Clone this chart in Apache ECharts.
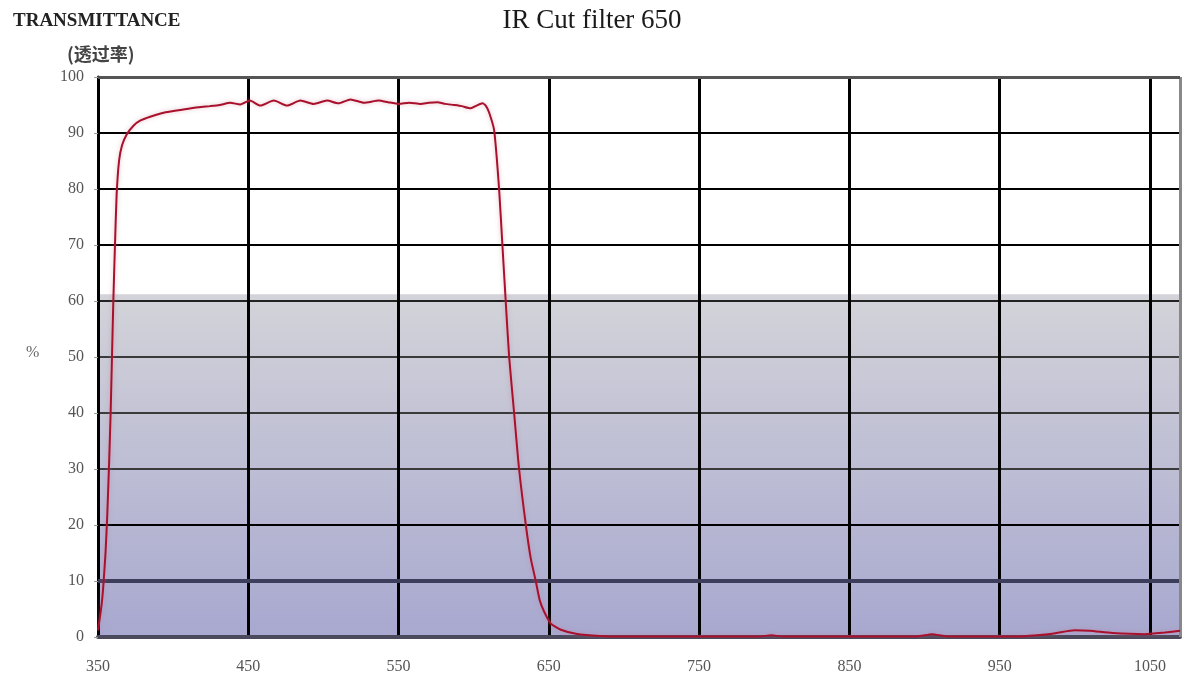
<!DOCTYPE html>
<html>
<head>
<meta charset="utf-8">
<script src="https://cdn.jsdelivr.net/npm/echarts@6/dist/echarts.min.js"></script>
<style>html,body{margin:0;padding:0;background:#fff}#c{width:1184px;height:679px}</style>
</head>
<body>
<div id="c"></div>
<script>
const titleText = 'IR Cut filter 650';
const yTitle = 'TRANSMITTANCE';
const yTitleCn = '(透过率)';
const yUnit = '%';
const xTickLabels = [350, 450, 550, 650, 750, 850, 950, 1050];
const yTickLabels = [0, 10, 20, 30, 40, 50, 60, 70, 80, 90, 100];
const shadedTop = 61.2;
const wavelength = [350, 351, 352.5, 353.5, 355, 356.2, 357.5, 358.4, 359.3, 360.2,
  361.3, 362.4, 364, 366, 369, 373.6, 378, 384.7, 395, 406.7,
  417, 424.7, 431, 438, 444.7, 451, 458, 467, 475.8, 484.7,
  493.5, 502.4, 510, 518, 526.9, 536.9, 543, 550.2, 557, 564.7,
  570, 575.8, 581, 586.9, 592, 598, 602, 605.8, 608, 610.2,
  613.6, 616.9, 619.1, 621.3, 623.6, 626.9, 630.2, 634.7, 638, 641.3,
  644, 646.9, 651.3, 658, 668, 684, 700, 750, 790, 798,
  806, 850, 895, 905, 915, 960, 985, 1000, 1010, 1025,
  1046.7, 1060, 1070];
const transmittance = [1.2, 3, 6, 9, 15, 22, 32, 40, 50, 60,
  70, 79, 85, 87.8, 89.7, 91.3, 92.2, 92.9, 93.7, 94.2,
  94.6, 94.8, 95.0, 95.4, 95.1, 95.8, 94.9, 95.8, 94.9, 95.8,
  95.2, 95.8, 95.3, 96.0, 95.4, 95.8, 95.5, 95.2, 95.4, 95.2,
  95.4, 95.5, 95.2, 95.0, 94.8, 94.4, 94.9, 95.3, 94.9, 93.7,
  90.5, 80, 70, 60, 50, 40, 30, 20, 14, 10,
  6.5, 4.5, 2.4, 1.3, 0.6, 0.2, 0.1, 0.1, 0.1, 0.3,
  0.1, 0.1, 0.1, 0.5, 0.1, 0.1, 0.6, 1.2, 1.1, 0.7,
  0.5, 0.8, 1.1];

const seriesData = wavelength.map((w, i) => [w, transmittance[i]]);
const xMin = xTickLabels[0];
const xMax = 1070;

const chart = echarts.init(document.getElementById('c'));
const serif = '"Liberation Serif", "DejaVu Serif", serif';
chart.setOption({
  animation: false,
  backgroundColor: '#ffffff',
  title: [
    { text: titleText, left: 'center', top: 2,
      textStyle: { fontFamily: serif, fontSize: 27, fontWeight: 'normal', color: '#1a1a1a' } },
    { text: yTitle, left: 8, top: 7,
      textStyle: { fontFamily: serif, fontSize: 19, fontWeight: 'bold', color: '#222' } },
    { text: yTitleCn, left: 62, top: 40,
      textStyle: { fontFamily: '"Noto Sans CJK SC", sans-serif', fontSize: 18, fontWeight: 'bold', color: '#444' } }
  ],
  graphic: [
    { type: 'text', left: 26, top: 345,
      style: { text: yUnit, font: '16px ' + serif, fill: '#666' } }
  ],
  grid: { left: 98, right: 4, top: 77, bottom: 42 },
  xAxis: {
    type: 'value', min: xMin, max: xMax, interval: 50, z: 3,
    axisLine: { show: true, lineStyle: { color: '#4a4a5c', width: 4 } },
    axisTick: { show: false },
    axisLabel: {
      margin: 22, fontFamily: serif, fontSize: 16, color: '#555',
      formatter: v => (xTickLabels.indexOf(v) >= 0 ? String(v) : '')
    },
    splitLine: { show: true, lineStyle: { color: ['#000', 'rgba(0,0,0,0)'], width: 3 } }
  },
  yAxis: {
    type: 'value', min: 0, max: 100, interval: 10, z: 3,
    axisLine: { show: true, lineStyle: { color: '#000', width: 3 } },
    axisTick: { show: true, length: 4, lineStyle: { color: '#999' } },
    axisLabel: { margin: 14, fontFamily: serif, fontSize: 16, color: '#555',
      formatter: v => (yTickLabels.indexOf(v) >= 0 ? String(v) : '') },
    splitLine: { show: true, lineStyle: {
      color: ['rgba(0,0,0,0)', '#3d3d5c', '#000', '#3a3a3a', '#3a3a3a', '#3a3a3a', '#222', '#000', '#000', '#000', '#555'],
      width: 2 } }
  },
  series: [
    {
      type: 'line', z: 1, data: seriesData, showSymbol: false, silent: true,
      lineStyle: { width: 0, opacity: 0 },
      markArea: {
        silent: true, z: 1,
        itemStyle: {
          color: new echarts.graphic.LinearGradient(0, 0, 0, 1, [
            { offset: 0, color: '#d3d3d9' },
            { offset: 1, color: '#a8a8d0' }
          ])
        },
        data: [[{ xAxis: xMin, yAxis: 0 }, { xAxis: xMax, yAxis: shadedTop }]]
      }
    },
    {
      type: 'line', z: 6, data: seriesData, showSymbol: false, smooth: 0.2,
      lineStyle: { color: '#a8102c', width: 2, shadowColor: 'rgba(200,120,140,0.5)', shadowBlur: 4 },
      markLine: {
        silent: true, symbol: 'none', label: { show: false }, z: 5,
        data: [
          { yAxis: 10, lineStyle: { color: '#3d3d5c', width: 4, type: 'solid' } },
          { xAxis: xMax, lineStyle: { color: '#888', width: 3, type: 'solid' } },
          { yAxis: 100, lineStyle: { color: '#555', width: 3, type: 'solid' } }
        ]
      }
    }
  ]
});
</script>
</body>
</html>
